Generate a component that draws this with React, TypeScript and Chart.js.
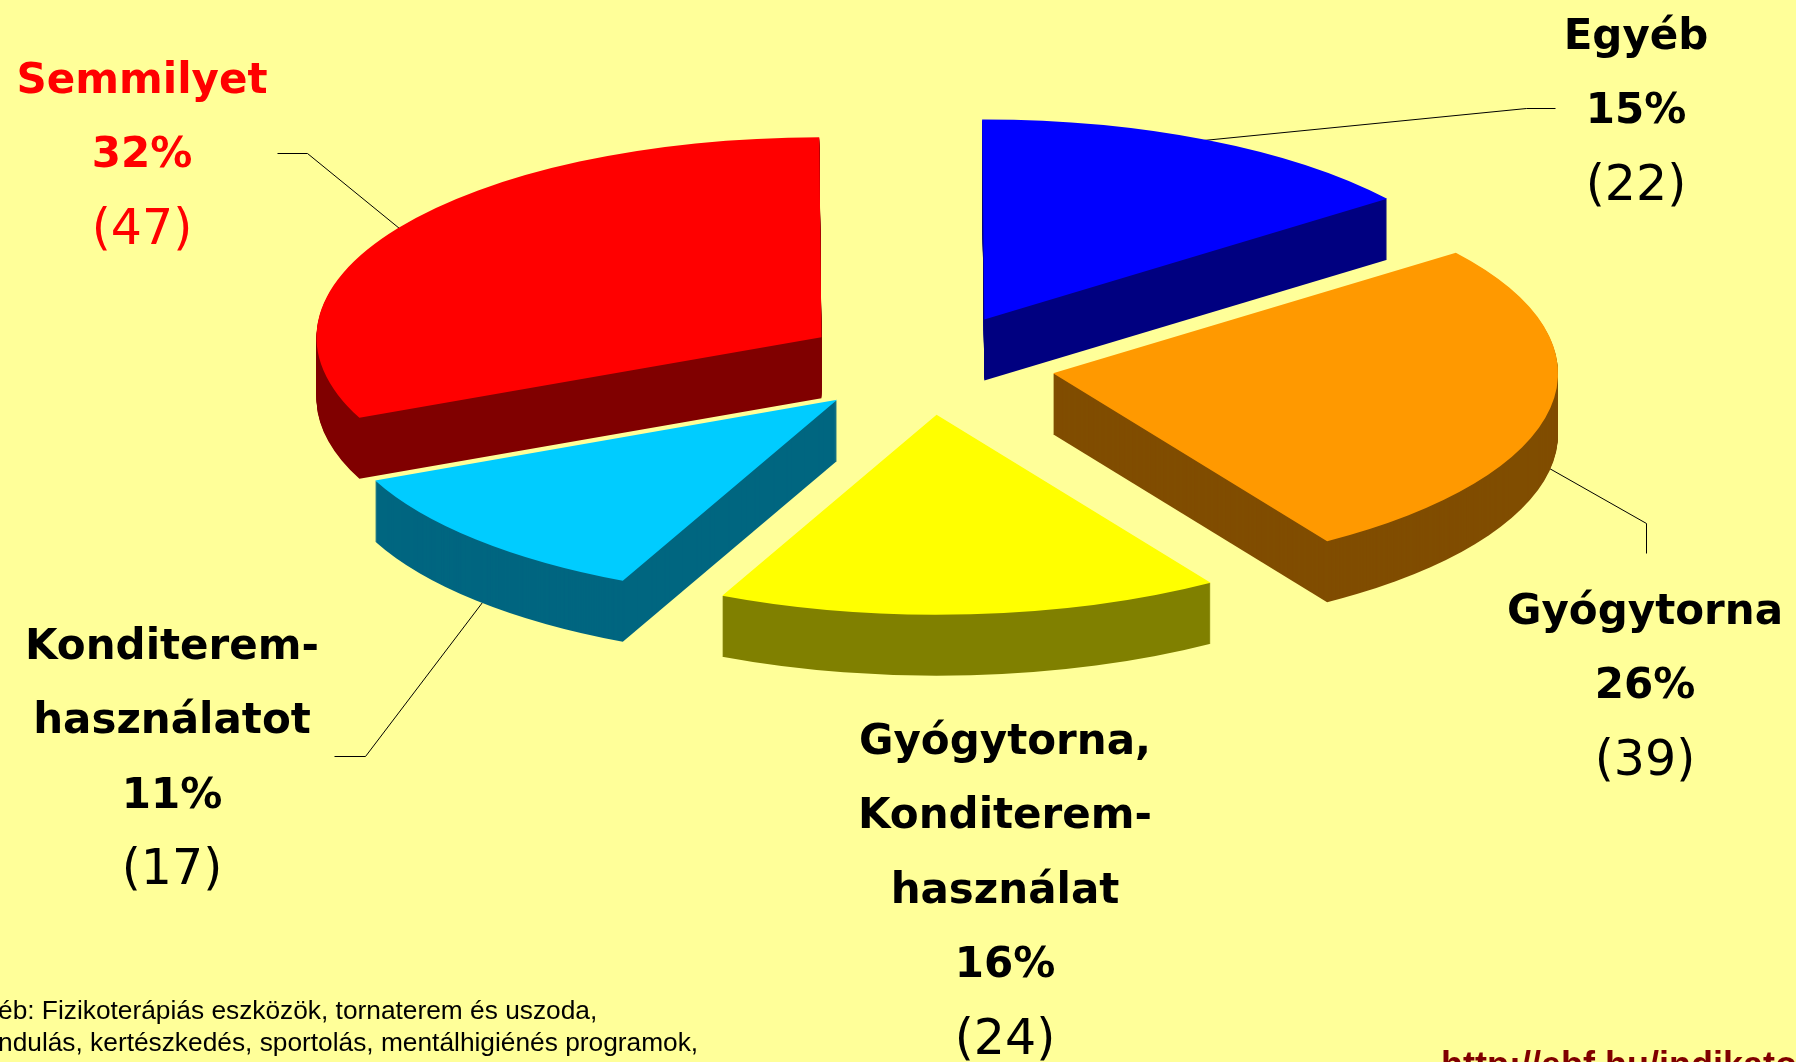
import React, { useEffect, useRef } from "react";
import { Chart, registerables } from "chart.js";

Chart.register(...registerables);

const categories = ["Egyéb", "Gyógytorna", "Gyógytorna, Konditerem-használat", "Konditerem-használatot", "Semmilyet"];
const counts = [22, 39, 24, 17, 47];
const percents = ["15%", "26%", "16%", "11%", "32%"];
const nameLines = [
  ["Egyéb"],
  ["Gyógytorna"],
  ["Gyógytorna,", "Konditerem-", "használat"],
  ["Konditerem-", "használatot"],
  ["Semmilyet"],
];
const topColors = ["#0000FF", "#FF9900", "#FFFF00", "#00CCFF", "#FF0000"];
const sideColors = ["#000080", "#804D00", "#808000", "#006680", "#800000"];
const textColors = ["#000000", "#000000", "#000000", "#000000", "#FF0000"];
const labelAnchors = [
  [1636, 38],
  [1645, 613],
  [1005, 743],
  [172, 648],
  [142, 82],
];
const leaders = [
  [[1555, 108], [1526, 108], [1203, 140]],
  [[1646, 553], [1646, 523], [1549, 468]],
  [],
  [[334, 756], [365, 756], [482, 602]],
  [[277, 153], [307, 153], [399, 228]],
];
const footnotes = [
  "éb: Fizikoterápiás eszközök, tornaterem és uszoda,",
  "ndulás, kertészkedés, sportolás, mentálhigiénés programok,",
];
const sourceUrl = "http://ebf.hu/indikato";

const CENTER_X = 928;
const CENTER_Y = 364.5;
const TILT = 0.396;
const RADIUS = 505;
const EXPLODE = 127;
const DEPTH = 61;
const ROTATION = -0.25;
const LINE_HEIGHT = 74.5;
const BACKGROUND = "#FFFF99";
const BOLD_FONT = "bold 42px 'DejaVu Sans'";
const REGULAR_FONT = "49px 'DejaVu Sans'";

const exploded3D = {
  id: "exploded3D",
  beforeDatasetsDraw(chart: any) {
    const { ctx } = chart;
    const arcs = chart.getDatasetMeta(0).data;
    ctx.save();
    ctx.strokeStyle = "#000000";
    ctx.lineWidth = 1;
    leaders.forEach((pts) => {
      if (!pts.length) return;
      ctx.beginPath();
      pts.forEach(([x, y], i) => (i ? ctx.lineTo(x + 0.5, y + 0.5) : ctx.moveTo(x + 0.5, y + 0.5)));
      ctx.stroke();
    });
    ctx.restore();
    arcs.forEach((arc: any, i: number) => {
      const { x, y, startAngle, endAngle, outerRadius } = arc.getProps(["x", "y", "startAngle", "endAngle", "outerRadius"], true);
      const mid = (startAngle + endAngle) / 2;
      const place = (drop: number) => {
        ctx.translate(CENTER_X, CENTER_Y + drop);
        ctx.scale(1, TILT);
        ctx.translate(Math.cos(mid) * EXPLODE - x, Math.sin(mid) * EXPLODE - y);
      };
      ctx.fillStyle = sideColors[i];
      for (let d = DEPTH; d >= 1; d--) {
        ctx.save();
        place(d);
        ctx.beginPath();
        ctx.moveTo(x, y);
        ctx.arc(x, y, outerRadius, startAngle, endAngle);
        ctx.closePath();
        ctx.fill();
        ctx.restore();
      }
      ctx.save();
      place(0);
      arc.draw(ctx);
      ctx.restore();
    });
    return false;
  },
  afterDraw(chart: any) {
    const { ctx } = chart;
    ctx.save();
    ctx.textAlign = "center";
    ctx.textBaseline = "middle";
    categories.forEach((_, i) => {
      const [ax, ay] = labelAnchors[i];
      ctx.fillStyle = textColors[i];
      ctx.font = BOLD_FONT;
      const bold = [...nameLines[i], percents[i]];
      bold.forEach((line, j) => ctx.fillText(line, ax, ay + j * LINE_HEIGHT));
      ctx.font = REGULAR_FONT;
      ctx.fillText(`(${counts[i]})`, ax, ay + bold.length * LINE_HEIGHT);
    });
    ctx.textAlign = "left";
    ctx.textBaseline = "alphabetic";
    ctx.fillStyle = "#000000";
    ctx.font = "26.3px 'Liberation Sans'";
    footnotes.forEach((line, j) => ctx.fillText(line, -2, 1019 + j * 32));
    ctx.fillStyle = "#800000";
    ctx.font = "bold 36px 'Liberation Sans'";
    ctx.fillText(sourceUrl, 1441, 1077);
    ctx.restore();
  },
};

export default function App() {
  const ref = useRef<HTMLCanvasElement>(null);
  useEffect(() => {
    const chart = new Chart(ref.current as HTMLCanvasElement, {
      type: "pie",
      data: {
        labels: categories,
        datasets: [{ data: counts, backgroundColor: topColors, borderWidth: 0, radius: RADIUS } as any],
      },
      options: {
        animation: false,
        responsive: false,
        radius: RADIUS,
        rotation: ROTATION,
        events: [],
        layout: { padding: 0 },
        plugins: { legend: { display: false }, tooltip: { enabled: false } },
      } as any,
      plugins: [exploded3D],
    });
    return () => chart.destroy();
  }, []);
  return (
    <div style={{ position: "fixed", left: 0, top: 0, width: 1796, height: 1062, background: BACKGROUND, overflow: "hidden" }}>
      <canvas ref={ref} width={1796} height={1062} style={{ display: "block" }} />
    </div>
  );
}
